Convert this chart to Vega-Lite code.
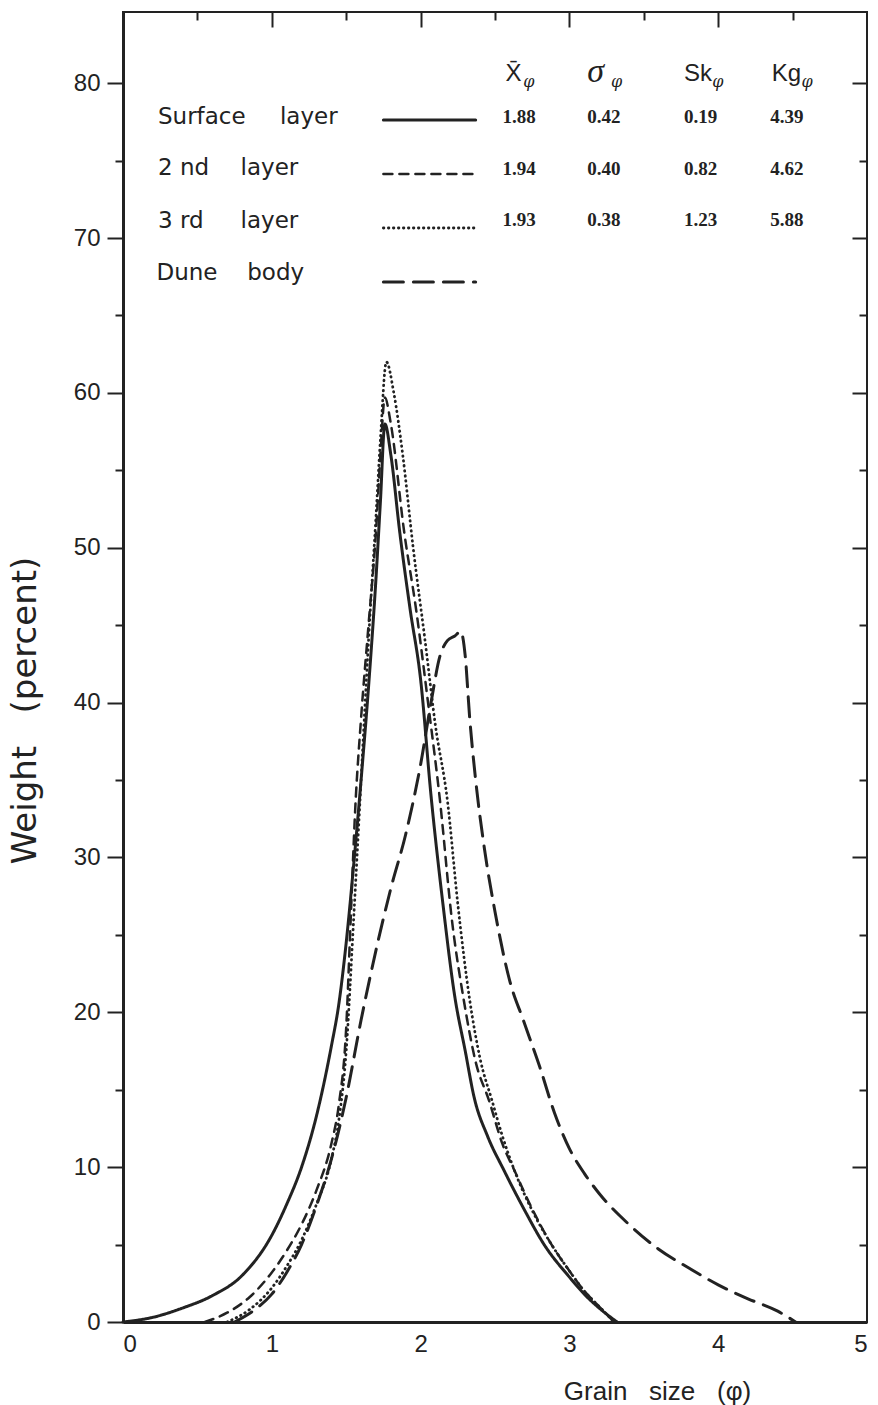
{
  "$schema": "https://vega.github.io/schema/vega-lite/v6.json",
  "width": 744,
  "height": 1310,
  "autosize": {"type": "none"},
  "padding": {"left": 123, "top": 12, "right": 11, "bottom": 83},
  "background": "white",
  "config": {
    "view": {"stroke": "#222", "strokeWidth": 2},
    "axis": {"labelFont": "Liberation Sans", "titleFont": "Liberation Sans", "labelColor": "#222", "titleColor": "#222", "tickColor": "#222", "domainColor": "#222", "grid": false, "titleFontWeight": "normal", "tickWidth": 2}
  },
  "datasets": {
    "curves": [
      {"series": "Surface layer", "phi": 0, "w": 0},
      {"series": "Surface layer", "phi": 0.2, "w": 0.3},
      {"series": "Surface layer", "phi": 0.4, "w": 0.9},
      {"series": "Surface layer", "phi": 0.6, "w": 1.7},
      {"series": "Surface layer", "phi": 0.8, "w": 3.0},
      {"series": "Surface layer", "phi": 1.0, "w": 5.6},
      {"series": "Surface layer", "phi": 1.1, "w": 7.6},
      {"series": "Surface layer", "phi": 1.2, "w": 10},
      {"series": "Surface layer", "phi": 1.3, "w": 13.3},
      {"series": "Surface layer", "phi": 1.4, "w": 17.8},
      {"series": "Surface layer", "phi": 1.45, "w": 20.5},
      {"series": "Surface layer", "phi": 1.5, "w": 24.5},
      {"series": "Surface layer", "phi": 1.55, "w": 29.5},
      {"series": "Surface layer", "phi": 1.6, "w": 35},
      {"series": "Surface layer", "phi": 1.65, "w": 41},
      {"series": "Surface layer", "phi": 1.7, "w": 48},
      {"series": "Surface layer", "phi": 1.73, "w": 53},
      {"series": "Surface layer", "phi": 1.76, "w": 58},
      {"series": "Surface layer", "phi": 1.8, "w": 56},
      {"series": "Surface layer", "phi": 1.86, "w": 51},
      {"series": "Surface layer", "phi": 1.93, "w": 46},
      {"series": "Surface layer", "phi": 2.0, "w": 41.5},
      {"series": "Surface layer", "phi": 2.07, "w": 34},
      {"series": "Surface layer", "phi": 2.15, "w": 27},
      {"series": "Surface layer", "phi": 2.23, "w": 21},
      {"series": "Surface layer", "phi": 2.3, "w": 17.5},
      {"series": "Surface layer", "phi": 2.36, "w": 14.5},
      {"series": "Surface layer", "phi": 2.45, "w": 12},
      {"series": "Surface layer", "phi": 2.56, "w": 9.8},
      {"series": "Surface layer", "phi": 2.7, "w": 7.2},
      {"series": "Surface layer", "phi": 2.83, "w": 5},
      {"series": "Surface layer", "phi": 3.0, "w": 2.9},
      {"series": "Surface layer", "phi": 3.1, "w": 1.8},
      {"series": "Surface layer", "phi": 3.2, "w": 0.9},
      {"series": "Surface layer", "phi": 3.32, "w": 0},
      {"series": "2nd layer", "phi": 0.55, "w": 0},
      {"series": "2nd layer", "phi": 0.7, "w": 0.6},
      {"series": "2nd layer", "phi": 0.85, "w": 1.6},
      {"series": "2nd layer", "phi": 1.0, "w": 3.2},
      {"series": "2nd layer", "phi": 1.1, "w": 4.6},
      {"series": "2nd layer", "phi": 1.2, "w": 6.3},
      {"series": "2nd layer", "phi": 1.3, "w": 8.5},
      {"series": "2nd layer", "phi": 1.4, "w": 11.5},
      {"series": "2nd layer", "phi": 1.45, "w": 14},
      {"series": "2nd layer", "phi": 1.5, "w": 19},
      {"series": "2nd layer", "phi": 1.53, "w": 26},
      {"series": "2nd layer", "phi": 1.56, "w": 33},
      {"series": "2nd layer", "phi": 1.6, "w": 39},
      {"series": "2nd layer", "phi": 1.65, "w": 45},
      {"series": "2nd layer", "phi": 1.7, "w": 51},
      {"series": "2nd layer", "phi": 1.73, "w": 56},
      {"series": "2nd layer", "phi": 1.76, "w": 59.7},
      {"series": "2nd layer", "phi": 1.8, "w": 58},
      {"series": "2nd layer", "phi": 1.89, "w": 51},
      {"series": "2nd layer", "phi": 1.97, "w": 46},
      {"series": "2nd layer", "phi": 2.05, "w": 40},
      {"series": "2nd layer", "phi": 2.13, "w": 33.7},
      {"series": "2nd layer", "phi": 2.21, "w": 26},
      {"series": "2nd layer", "phi": 2.29, "w": 20.8},
      {"series": "2nd layer", "phi": 2.37, "w": 16.8},
      {"series": "2nd layer", "phi": 2.46, "w": 14.3},
      {"series": "2nd layer", "phi": 2.55, "w": 11.5},
      {"series": "2nd layer", "phi": 2.63, "w": 9.8},
      {"series": "2nd layer", "phi": 2.75, "w": 7.3},
      {"series": "2nd layer", "phi": 2.88, "w": 5},
      {"series": "2nd layer", "phi": 3.0, "w": 3.3},
      {"series": "2nd layer", "phi": 3.1, "w": 2},
      {"series": "2nd layer", "phi": 3.2, "w": 1},
      {"series": "2nd layer", "phi": 3.3, "w": 0},
      {"series": "3rd layer", "phi": 0.7, "w": 0},
      {"series": "3rd layer", "phi": 0.85, "w": 0.8},
      {"series": "3rd layer", "phi": 1.0, "w": 2.2},
      {"series": "3rd layer", "phi": 1.1, "w": 3.6},
      {"series": "3rd layer", "phi": 1.2, "w": 5.3},
      {"series": "3rd layer", "phi": 1.3, "w": 7.6},
      {"series": "3rd layer", "phi": 1.4, "w": 10.5},
      {"series": "3rd layer", "phi": 1.45, "w": 13},
      {"series": "3rd layer", "phi": 1.5, "w": 17.5},
      {"series": "3rd layer", "phi": 1.55, "w": 26},
      {"series": "3rd layer", "phi": 1.6, "w": 35},
      {"series": "3rd layer", "phi": 1.65, "w": 44},
      {"series": "3rd layer", "phi": 1.7, "w": 52},
      {"series": "3rd layer", "phi": 1.73, "w": 57},
      {"series": "3rd layer", "phi": 1.77, "w": 62},
      {"series": "3rd layer", "phi": 1.82, "w": 60},
      {"series": "3rd layer", "phi": 1.88, "w": 56},
      {"series": "3rd layer", "phi": 1.95, "w": 50},
      {"series": "3rd layer", "phi": 2.03, "w": 44},
      {"series": "3rd layer", "phi": 2.1, "w": 38.5},
      {"series": "3rd layer", "phi": 2.18, "w": 33.7},
      {"series": "3rd layer", "phi": 2.25, "w": 27},
      {"series": "3rd layer", "phi": 2.33, "w": 20.8},
      {"series": "3rd layer", "phi": 2.4, "w": 17},
      {"series": "3rd layer", "phi": 2.48, "w": 14.3},
      {"series": "3rd layer", "phi": 2.55, "w": 12},
      {"series": "3rd layer", "phi": 2.63, "w": 9.8},
      {"series": "3rd layer", "phi": 2.75, "w": 7.2},
      {"series": "3rd layer", "phi": 2.88, "w": 5},
      {"series": "3rd layer", "phi": 3.0, "w": 3.3},
      {"series": "3rd layer", "phi": 3.1, "w": 2},
      {"series": "3rd layer", "phi": 3.2, "w": 1},
      {"series": "3rd layer", "phi": 3.3, "w": 0},
      {"series": "Dune body", "phi": 0.75, "w": 0},
      {"series": "Dune body", "phi": 0.9, "w": 0.9},
      {"series": "Dune body", "phi": 1.0, "w": 1.8},
      {"series": "Dune body", "phi": 1.1, "w": 3.2},
      {"series": "Dune body", "phi": 1.2, "w": 5},
      {"series": "Dune body", "phi": 1.3, "w": 7.5},
      {"series": "Dune body", "phi": 1.4, "w": 10.5},
      {"series": "Dune body", "phi": 1.5, "w": 14.5},
      {"series": "Dune body", "phi": 1.6, "w": 19.5},
      {"series": "Dune body", "phi": 1.7, "w": 24},
      {"series": "Dune body", "phi": 1.8, "w": 28},
      {"series": "Dune body", "phi": 1.9, "w": 31.5},
      {"series": "Dune body", "phi": 2.0, "w": 36},
      {"series": "Dune body", "phi": 2.07, "w": 40},
      {"series": "Dune body", "phi": 2.13, "w": 43},
      {"series": "Dune body", "phi": 2.18, "w": 44},
      {"series": "Dune body", "phi": 2.23, "w": 44.3},
      {"series": "Dune body", "phi": 2.27, "w": 44.6},
      {"series": "Dune body", "phi": 2.3, "w": 43},
      {"series": "Dune body", "phi": 2.33, "w": 39},
      {"series": "Dune body", "phi": 2.37, "w": 35},
      {"series": "Dune body", "phi": 2.43, "w": 30.5},
      {"series": "Dune body", "phi": 2.5, "w": 26.5},
      {"series": "Dune body", "phi": 2.6, "w": 22},
      {"series": "Dune body", "phi": 2.69, "w": 19.5},
      {"series": "Dune body", "phi": 2.8, "w": 16.5},
      {"series": "Dune body", "phi": 2.9, "w": 13.5},
      {"series": "Dune body", "phi": 3.0, "w": 11.2},
      {"series": "Dune body", "phi": 3.1, "w": 9.6},
      {"series": "Dune body", "phi": 3.2, "w": 8.3},
      {"series": "Dune body", "phi": 3.4, "w": 6.3},
      {"series": "Dune body", "phi": 3.6, "w": 4.7},
      {"series": "Dune body", "phi": 3.8, "w": 3.5},
      {"series": "Dune body", "phi": 4.0, "w": 2.4},
      {"series": "Dune body", "phi": 4.2, "w": 1.5},
      {"series": "Dune body", "phi": 4.4, "w": 0.7},
      {"series": "Dune body", "phi": 4.52, "w": 0}
    ],
    "samples": [
      {"series": "Surface layer", "x1": 1.75, "x2": 2.37, "y": 77.62},
      {"series": "2nd layer", "x1": 1.75, "x2": 2.37, "y": 74.13},
      {"series": "3rd layer", "x1": 1.75, "x2": 2.37, "y": 70.65},
      {"series": "Dune body", "x1": 1.75, "x2": 2.37, "y": 67.16}
    ],
    "labels": [
      {"x": 0.235, "y": 77.82, "t": "Surface"},
      {"x": 1.055, "y": 77.82, "t": "layer"},
      {"x": 0.235, "y": 74.52, "t": "2 nd"},
      {"x": 0.79, "y": 74.52, "t": "layer"},
      {"x": 0.235, "y": 71.1, "t": "3 rd"},
      {"x": 0.79, "y": 71.1, "t": "layer"},
      {"x": 0.225, "y": 67.74, "t": "Dune"},
      {"x": 0.835, "y": 67.74, "t": "body"}
    ],
    "numbers": [
      {"x": 2.55, "y": 77.82, "t": "1.88"},
      {"x": 3.12, "y": 77.82, "t": "0.42"},
      {"x": 3.77, "y": 77.82, "t": "0.19"},
      {"x": 4.35, "y": 77.82, "t": "4.39"},
      {"x": 2.55, "y": 74.46, "t": "1.94"},
      {"x": 3.12, "y": 74.46, "t": "0.40"},
      {"x": 3.77, "y": 74.46, "t": "0.82"},
      {"x": 4.35, "y": 74.46, "t": "4.62"},
      {"x": 2.55, "y": 71.16, "t": "1.93"},
      {"x": 3.12, "y": 71.16, "t": "0.38"},
      {"x": 3.77, "y": 71.16, "t": "1.23"},
      {"x": 4.35, "y": 71.16, "t": "5.88"}
    ],
    "headers": [
      {"x": 2.57, "y": 80.6, "t": "X̄"},
      {"x": 3.77, "y": 80.6, "t": "Sk"},
      {"x": 4.36, "y": 80.6, "t": "Kg"}
    ],
    "sigma": [
      {"x": 3.12, "y": 80.7, "t": "σ"}
    ],
    "subs": [
      {"x": 2.69, "y": 80.05, "t": "φ"},
      {"x": 3.28, "y": 80.05, "t": "φ"},
      {"x": 3.96, "y": 80.05, "t": "φ"},
      {"x": 4.56, "y": 80.05, "t": "φ"}
    ]
  },
  "layer": [
    {
      "data": {"name": "curves"},
      "mark": {"type": "line", "interpolate": "monotone", "color": "#222", "strokeCap": "round"},
      "encoding": {
        "x": {"field": "phi", "type": "quantitative", "scale": {"domain": [0, 5], "nice": false, "zero": false},
          "axis": {"orient": "bottom", "values": [0, 1, 2, 3, 4, 5], "format": "d", "ticks": false, "labelFontSize": 24, "labelPadding": 10, "domainWidth": 3,
            "title": "Grain\u00a0\u00a0\u00a0size\u00a0\u00a0\u00a0(φ)", "titleFontSize": 26, "titleX": 534, "titleY": 77, "titleAlign": "center", "titleBaseline": "alphabetic", "titleAnchor": null}},
        "y": {"field": "w", "type": "quantitative", "scale": {"domain": [0, 84.6], "nice": false, "zero": false},
          "axis": {"orient": "left", "values": [0, 10, 20, 30, 40, 50, 60, 70, 80], "tickSize": 16, "labelFontSize": 24, "labelPadding": 7, "domainWidth": 3,
            "title": "Weight\u00a0\u00a0\u00a0(percent)", "titleFont": "DejaVu Sans", "titleFontSize": 34, "titleX": -88, "titleY": 698, "titleAlign": "center", "titleAngle": -90, "titleBaseline": "alphabetic", "titleAnchor": null}},
        "strokeDash": {"field": "series", "type": "nominal", "scale": {"domain": ["Surface layer", "2nd layer", "3rd layer", "Dune body"], "range": [[1, 0], [9, 7], [0.5, 4.5], [20, 10]]}, "legend": null},
        "strokeWidth": {"field": "series", "type": "ordinal", "scale": {"type": "ordinal", "domain": ["Surface layer", "2nd layer", "3rd layer", "Dune body"], "range": [3, 2.5, 2.8, 3]}, "legend": null}
      }
    },
    {
      "data": {"name": "samples"},
      "mark": {"type": "rule", "color": "#222", "strokeCap": "round"},
      "encoding": {
        "x": {"field": "x1", "type": "quantitative", "scale": {"domain": [0, 5], "nice": false, "zero": false},
          "axis": {"orient": "top", "values": [1, 2, 3, 4], "tickSize": -15, "labels": false, "domain": false, "title": null}},
        "x2": {"field": "x2"},
        "y": {"field": "y", "type": "quantitative", "scale": {"domain": [0, 84.6], "nice": false, "zero": false},
          "axis": {"orient": "right", "values": [10, 20, 30, 40, 50, 60, 70, 80], "tickSize": -15, "labels": false, "domain": false, "title": null}},
        "strokeDash": {"field": "series", "type": "nominal", "scale": {"domain": ["Surface layer", "2nd layer", "3rd layer", "Dune body"], "range": [[1, 0], [9, 7], [0.5, 4.5], [20, 10]]}, "legend": null},
        "strokeWidth": {"field": "series", "type": "ordinal", "scale": {"type": "ordinal", "domain": ["Surface layer", "2nd layer", "3rd layer", "Dune body"], "range": [3, 2.5, 2.8, 3]}, "legend": null}
      }
    },
    {
      "data": {"name": "numbers"},
      "mark": {"type": "text", "font": "Liberation Serif", "fontWeight": "bold", "fontSize": 19, "align": "left", "baseline": "middle", "color": "#222"},
      "encoding": {
        "x": {"field": "x", "type": "quantitative", "scale": {"domain": [0, 5], "nice": false, "zero": false},
          "axis": {"orient": "top", "values": [0.5, 1.5, 2.5, 3.5, 4.5], "tickSize": -8, "labels": false, "domain": false, "title": null}},
        "y": {"field": "y", "type": "quantitative", "scale": {"domain": [0, 84.6], "nice": false, "zero": false},
          "axis": {"orient": "right", "values": [5, 15, 25, 35, 45, 55, 65, 75], "tickSize": -8, "labels": false, "domain": false, "title": null}},
        "text": {"field": "t", "type": "nominal"}
      }
    },
    {
      "data": {"name": "labels"},
      "mark": {"type": "text", "font": "DejaVu Sans", "fontSize": 23, "align": "left", "baseline": "middle", "color": "#222"},
      "encoding": {
        "x": {"field": "x", "type": "quantitative", "scale": {"domain": [0, 5], "nice": false, "zero": false}, "axis": null},
        "y": {"field": "y", "type": "quantitative", "scale": {"domain": [0, 84.6], "nice": false, "zero": false},
          "axis": {"orient": "left", "values": [5, 15, 25, 35, 45, 55, 65, 75], "tickSize": 8, "labels": false, "domain": false, "title": null}},
        "text": {"field": "t", "type": "nominal"}
      }
    },
    {
      "data": {"name": "headers"},
      "mark": {"type": "text", "font": "Liberation Sans", "fontSize": 24, "align": "left", "baseline": "middle", "color": "#222"},
      "encoding": {
        "x": {"field": "x", "type": "quantitative", "scale": {"domain": [0, 5], "nice": false, "zero": false}, "axis": null},
        "y": {"field": "y", "type": "quantitative", "scale": {"domain": [0, 84.6], "nice": false, "zero": false}, "axis": null},
        "text": {"field": "t", "type": "nominal"}
      }
    },
    {
      "data": {"name": "sigma"},
      "mark": {"type": "text", "font": "Liberation Serif", "fontStyle": "italic", "fontSize": 34, "align": "left", "baseline": "middle", "color": "#222"},
      "encoding": {
        "x": {"field": "x", "type": "quantitative", "scale": {"domain": [0, 5], "nice": false, "zero": false}, "axis": null},
        "y": {"field": "y", "type": "quantitative", "scale": {"domain": [0, 84.6], "nice": false, "zero": false}, "axis": null},
        "text": {"field": "t", "type": "nominal"}
      }
    },
    {
      "data": {"name": "subs"},
      "mark": {"type": "text", "font": "DejaVu Serif", "fontStyle": "italic", "fontSize": 16, "align": "left", "baseline": "middle", "color": "#222"},
      "encoding": {
        "x": {"field": "x", "type": "quantitative", "scale": {"domain": [0, 5], "nice": false, "zero": false}, "axis": null},
        "y": {"field": "y", "type": "quantitative", "scale": {"domain": [0, 84.6], "nice": false, "zero": false}, "axis": null},
        "text": {"field": "t", "type": "nominal"}
      }
    }
  ],
  "resolve": {"axis": {"x": "independent", "y": "independent"}}
}
